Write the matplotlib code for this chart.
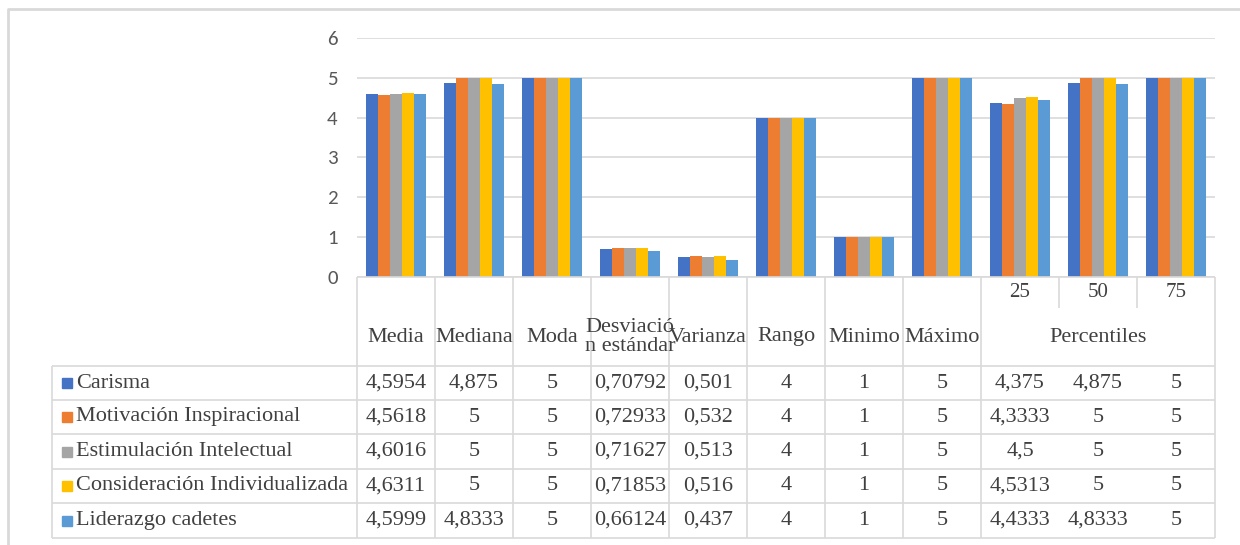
import numpy as np
import matplotlib.pyplot as plt
from matplotlib.patches import Rectangle

plt.rcParams['font.family'] = ['Liberation Serif', 'DejaVu Serif']

# Données du tableau
categorias = ['Media', 'Mediana', 'Moda', 'Desviació\nn estándar', 'Varianza',
              'Rango', 'Minimo', 'Máximo', '25', '50', '75']
grupo_percentiles = 'Percentiles'
series = ['Carisma', 'Motivación Inspiracional', 'Estimulación Intelectual',
          'Consideración Individualizada', 'Liderazgo cadetes']

carisma = [4.5954, 4.875, 5, 0.70792, 0.501, 4, 1, 5, 4.375, 4.875, 5]
motivacion = [4.5618, 5, 5, 0.72933, 0.532, 4, 1, 5, 4.3333, 5, 5]
estimulacion = [4.6016, 5, 5, 0.71627, 0.513, 4, 1, 5, 4.5, 5, 5]
consideracion = [4.6311, 5, 5, 0.71853, 0.516, 4, 1, 5, 4.5313, 5, 5]
liderazgo = [4.5999, 4.8333, 5, 0.66124, 0.437, 4, 1, 5, 4.4333, 4.8333, 5]
valores = [carisma, motivacion, estimulacion, consideracion, liderazgo]

y_ticks = [0, 1, 2, 3, 4, 5, 6]
colores = ['#4472C4', '#ED7D31', '#A5A5A5', '#FFC000', '#5B9BD5']

W, H = 1240, 545
gris_linea = '#D9D9D9'
gris_texto = '#404040'

fig = plt.figure(figsize=(W / 100, H / 100), dpi=100)

# Zone du graphique (en pixels)
x0, x1 = 357, 1215
y_top, y_zero = 38, 277
ax = fig.add_axes([x0 / W, 1 - y_zero / H, (x1 - x0) / W, (y_zero - y_top) / H])
ax.set_facecolor('none')

n_cat = len(categorias)
n_ser = len(series)
ancho_grupo = 0.77
ancho = ancho_grupo / n_ser
pos = np.arange(n_cat) + 0.5
for i, (nom, vals) in enumerate(zip(series, valores)):
    ax.bar(pos - ancho_grupo / 2 + ancho * (i + 0.5), vals, width=ancho,
           color=colores[i], label=nom, zorder=3)

ax.set_xlim(0, n_cat)
ax.set_ylim(0, 6)
ax.set_yticks(y_ticks)
ax.set_yticklabels([str(t) for t in y_ticks], family=['Carlito', 'DejaVu Sans'],
                   fontsize=15)
ax.set_xticks([])
ax.grid(axis='y', color=gris_linea, linewidth=1.2, zorder=0)
for s in ax.spines.values():
    s.set_visible(False)
ax.tick_params(axis='y', length=0, pad=14, labelcolor='#595959')


# Tableau de données dessiné en pixels de la figure (origine en haut à gauche)
def px(x, y):
    return x / W, 1 - y / H


def ligne(xs, ys, lw=1.2):
    fx = [x / W for x in xs]
    fy = [1 - y / H for y in ys]
    fig.add_artist(plt.Line2D(fx, fy, color=gris_linea, linewidth=lw,
                              solid_capstyle='butt'))


def texte(x, y, s, size=16, ha='center'):
    fig.text(*px(x, y), s, ha=ha, va='center', color=gris_texto,
             fontsize=size, linespacing=0.95)


# cadre extérieur
ligne([8, 8, W], [H, 9, 9], lw=2)

col_x = np.linspace(x0, x1, n_cat + 1)
leg_x = 52
y_head_sub = 308
filas_y = [366, 400, 434, 469, 503, 538]

# en-tête
ligne([x0, x1], [y_zero, y_zero])
for k, cx in enumerate(col_x):
    if k in (9, 10):
        ligne([cx, cx], [y_zero, y_head_sub])
    else:
        ligne([cx, cx], [y_zero, filas_y[-1]])
for fy in filas_y:
    ligne([leg_x, x1], [fy, fy])
ligne([leg_x, leg_x], [filas_y[0], filas_y[-1]])

y_lab = (y_head_sub + filas_y[0]) / 2
for k, cat in enumerate(categorias):
    cx = (col_x[k] + col_x[k + 1]) / 2
    if k >= 8:
        texte(cx, (y_zero + y_head_sub) / 2, cat, size=15)
    else:
        texte(cx, y_lab, cat)
texte((col_x[8] + col_x[11]) / 2, y_lab, grupo_percentiles)

# lignes de données
for r, (nom, vals) in enumerate(zip(series, valores)):
    cy = (filas_y[r] + filas_y[r + 1]) / 2
    fig.add_artist(Rectangle(px(62, cy + 5), 10 / W, 10 / H, color=colores[r]))
    texte(76, cy, nom, ha='left')
    for k, v in enumerate(vals):
        cx = (col_x[k] + col_x[k + 1]) / 2
        texte(cx, cy, f'{v:g}'.replace('.', ','))

fig.savefig('out.png', dpi=100)
